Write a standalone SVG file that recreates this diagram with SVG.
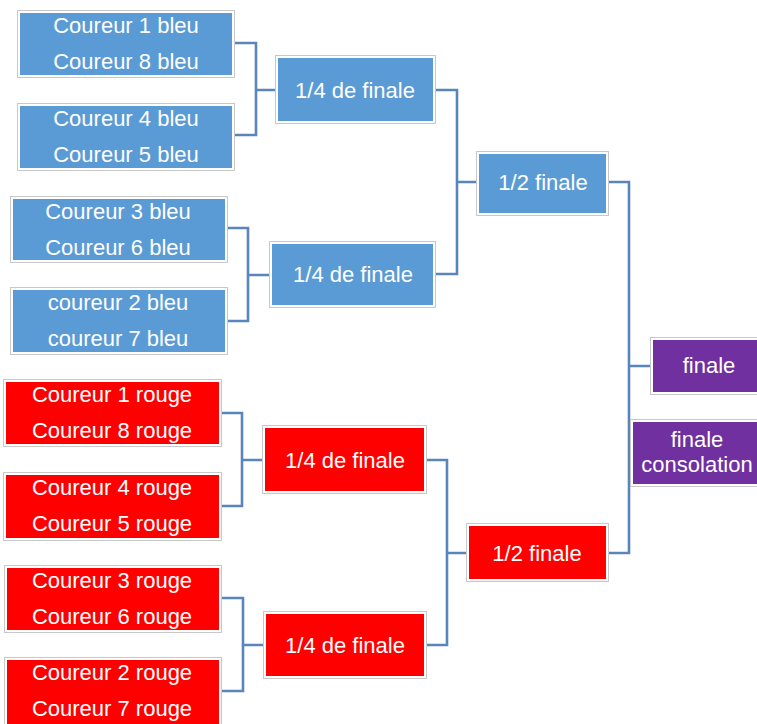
<svg xmlns="http://www.w3.org/2000/svg" width="757" height="724" viewBox="0 0 757 724">
<style>
.o{fill:#ffffff;stroke:#c8c8c8;stroke-width:1}
.b{fill:#5b9bd5}
.r{fill:#ff0000}
.p{fill:#7030a0}
text{font-family:"Liberation Sans",Arial,sans-serif;font-size:22px;fill:#ffffff;text-anchor:middle}
.c{fill:none;stroke:#5886bc;stroke-width:2.6}
</style>
<rect width="757" height="724" fill="#ffffff"/>
<g id="connectors">
<path class="c" d="M235,43 H256 V135 H235 M256,90 H275"/>
<path class="c" d="M228,228 H248 V321 H228 M248,275 H269"/>
<path class="c" d="M435,90 H457 V274 H435 M457,182 H476"/>
<path class="c" d="M222,413 H242 V506 H222 M242,460 H262"/>
<path class="c" d="M222,598 H243 V691 H222 M243,645 H263"/>
<path class="c" d="M427,460 H447 V645 H427 M447,553 H466"/>
<path class="c" d="M609,182 H629 V553 H609 M629,366 H650"/>
</g>
<g id="b1"><rect class="o" x="17.5" y="10.5" width="217" height="67"/><rect class="b" x="20" y="13" width="212" height="62"/><text x="126" y="33">Coureur 1 bleu</text><text x="126" y="69">Coureur 8 bleu</text></g>
<g id="b2"><rect class="o" x="17.5" y="103.5" width="217" height="67"/><rect class="b" x="20" y="106" width="212" height="62"/><text x="126" y="126">Coureur 4 bleu</text><text x="126" y="162">Coureur 5 bleu</text></g>
<g id="b3"><rect class="o" x="10.5" y="196.5" width="217" height="66"/><rect class="b" x="13" y="199" width="212" height="61"/><text x="118" y="219">Coureur 3 bleu</text><text x="118" y="255">Coureur 6 bleu</text></g>
<g id="b4"><rect class="o" x="10.5" y="287.5" width="217" height="67"/><rect class="b" x="13" y="290" width="212" height="62"/><text x="118" y="310">coureur 2 bleu</text><text x="118" y="346">coureur 7 bleu</text></g>
<g id="qb1"><rect class="o" x="275.5" y="55.5" width="160" height="68"/><rect class="b" x="278" y="58" width="155" height="63"/><text x="355" y="98">1/4 de finale</text></g>
<g id="qb2"><rect class="o" x="269.5" y="241.5" width="166" height="66"/><rect class="b" x="272" y="244" width="161" height="61"/><text x="353" y="282">1/4 de finale</text></g>
<g id="sb"><rect class="o" x="476.5" y="151.5" width="132" height="64"/><rect class="b" x="479" y="154" width="127" height="59"/><text x="543" y="190">1/2 finale</text></g>
<g id="r1"><rect class="o" x="3.5" y="379.5" width="218" height="67"/><rect class="r" x="6" y="382" width="213" height="62"/><text x="112" y="402">Coureur 1 rouge</text><text x="112" y="438">Coureur 8 rouge</text></g>
<g id="r2"><rect class="o" x="3.5" y="472.5" width="218" height="68"/><rect class="r" x="6" y="475" width="213" height="63"/><text x="112" y="495">Coureur 4 rouge</text><text x="112" y="531">Coureur 5 rouge</text></g>
<g id="r3"><rect class="o" x="4.5" y="565.5" width="217" height="67"/><rect class="r" x="7" y="568" width="212" height="62"/><text x="112" y="588">Coureur 3 rouge</text><text x="112" y="624">Coureur 6 rouge</text></g>
<g id="r4"><rect class="o" x="4.5" y="657.5" width="217" height="70"/><rect class="r" x="7" y="660" width="212" height="70"/><text x="112" y="680">Coureur 2 rouge</text><text x="112" y="716">Coureur 7 rouge</text></g>
<g id="qr1"><rect class="o" x="262.5" y="425.5" width="164" height="68"/><rect class="r" x="265" y="428" width="159" height="63"/><text x="345" y="468">1/4 de finale</text></g>
<g id="qr2"><rect class="o" x="263.5" y="611.5" width="163" height="67"/><rect class="r" x="266" y="614" width="158" height="62"/><text x="345" y="653">1/4 de finale</text></g>
<g id="sr"><rect class="o" x="466.5" y="523.5" width="142" height="58"/><rect class="r" x="469" y="526" width="137" height="53"/><text x="537" y="561">1/2 finale</text></g>
<g id="fin"><rect class="o" x="650.5" y="337.5" width="112" height="57"/><rect class="p" x="653" y="340" width="110" height="52"/><text x="709" y="373">finale</text></g>
<g id="cons"><rect class="o" x="630.5" y="419.5" width="132" height="67"/><rect class="p" x="633" y="422" width="130" height="62"/><text x="697" y="447">finale</text><text x="697" y="472">consolation</text></g>
</svg>
